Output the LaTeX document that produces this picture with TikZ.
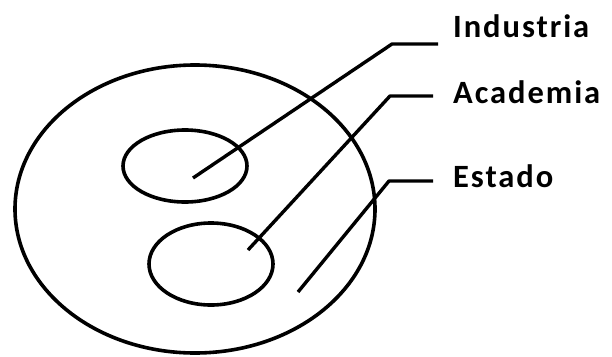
\documentclass[tikz,border=0pt]{standalone}
\usepackage{fontspec}
\setmainfont{Carlito}
\newfontfamily\tagfont[LetterSpace=6.0]{Carlito}
\usetikzlibrary{shapes.geometric, positioning, calc}
\tikzset{
  ring/.style={ellipse, draw=black, line width=3.6pt, inner sep=0pt},
  leader/.style={line width=3.4pt, color=black, line join=round},
  sectortext/.style={anchor=base west, inner sep=0pt, font=\tagfont\fontsize{32.5}{36}\selectfont\bfseries}
}
\begin{document}
\begin{tikzpicture}[x=1pt, y=-1pt]
  \useasboundingbox (0,0) rectangle (612,356);
  % Outer and inner ellipses
  \node[ring, minimum width=360pt, minimum height=288pt] (outer) at (195,209) {};
  \node[ring, minimum width=124pt, minimum height=72pt] (inner1) at (185,166) {};
  \node[ring, minimum width=124pt, minimum height=82pt] (inner2) at (211,264) {};
  % Labels
  \node[sectortext] (industria) at (453,37) {Industria};
  \node[sectortext] (academia) at (453,103) {Academia};
  \node[sectortext] (estado) at (453,187) {Estado};
  % Leader lines
  \coordinate (p1) at (193,178);
  \coordinate (p2) at (248,250);
  \coordinate (p3) at (298,292);
  \coordinate (k1) at (392,44);
  \coordinate (k2) at (390,96);
  \coordinate (k3) at (389,181);
  \draw[leader] (p1) -- (k1) -- ($(industria.west |- k1)+(-15,0)$);
  \draw[leader] (p2) -- (k2) -- ($(academia.west |- k2)+(-20,0)$);
  \draw[leader] (p3) -- (k3) -- ($(estado.west |- k3)+(-20,0)$);
\end{tikzpicture}
\end{document}
